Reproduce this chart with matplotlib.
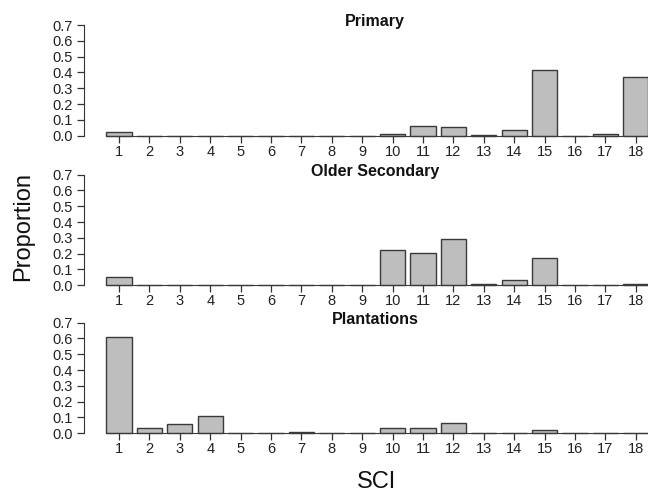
import numpy as np
import matplotlib.pyplot as plt
from matplotlib import font_manager

# SCI classes and proportions per habitat
sci = list(range(1, 19))
primary = [0.022, 0, 0, 0, 0, 0, 0, 0, 0, 0.012, 0.062, 0.052, 0.004, 0.037, 0.415, 0, 0.009, 0.373]
older_secondary = [0.055, 0, 0, 0, 0, 0, 0, 0, 0, 0.225, 0.203, 0.29, 0.008, 0.032, 0.175, 0, 0.004, 0.008]
plantations = [0.61, 0.035, 0.06, 0.107, 0, 0.004, 0.008, 0, 0, 0.035, 0.035, 0.068, 0, 0.004, 0.02, 0, 0, 0]
titles = ["Primary", "Older Secondary", "Plantations"]
yticks = [0.0, 0.1, 0.2, 0.3, 0.4, 0.5, 0.6, 0.7]

names = {f.name for f in font_manager.fontManager.ttflist}
narrow = "Liberation Sans Narrow" if "Liberation Sans Narrow" in names else "Liberation Sans"
plt.rcParams['font.family'] = [narrow, 'DejaVu Sans']

W, H = 648, 496
fig = plt.figure(figsize=(W / 100, H / 100), dpi=100)

zero_px = [135.7, 285.3, 433.3]
scale = 158.1  # px per unit
left_px, right_px = 83.5, 667
x_c1, dx = 119, 30.4
ylo, yhi = -0.012, 0.72
bw = 1 / 1.2

for k, (vals, title) in enumerate(zip([primary, older_secondary, plantations], titles)):
    z = zero_px[k]
    bot = z - ylo * scale
    top = z - yhi * scale
    ax = fig.add_axes([left_px / W, 1 - bot / H, (right_px - left_px) / W, (bot - top) / H])
    ax.bar(sci, vals, width=bw, color="#bebebe", edgecolor="#3a3a3a", linewidth=1.0)
    ax.set_xlim(1 - (x_c1 - left_px) / dx, 1 + (right_px - x_c1) / dx)
    ax.set_ylim(ylo, yhi)
    for s in ["top", "right"]:
        ax.spines[s].set_visible(False)
    ax.spines["left"].set_bounds(0, 0.7)
    ax.spines["left"].set_color("#333333")
    ax.spines["bottom"].set_position(("data", 0))
    ax.spines["bottom"].set_bounds(sci[0] - bw / 2, sci[-1] + bw / 2)
    ax.spines["bottom"].set_color("#3a3a3a")
    ax.set_yticks(yticks)
    ax.set_yticklabels([f"{t:.1f}" for t in yticks])
    ax.set_xticks(sci)
    ax.set_xticklabels([str(s) for s in sci])
    ax.tick_params(axis="both", colors="#333333", labelcolor="#222222", labelsize=10.5,
                   length=5, width=0.9, pad=2.5)
    ax.tick_params(axis="x", pad=1.5)
    ax.text(0.5, 0.72, title, transform=ax.get_yaxis_transform(), ha="center", va="center",
            fontsize=11.5, fontweight="bold", color="#111111")
    ax.patch.set_visible(False)

fig.text(23.5 / W, 1 - 226.5 / H, "Proportion", rotation=90, ha="center", va="center",
         fontsize=17, color="#111111", family=["Liberation Sans", "DejaVu Sans"])
fig.text(377 / W, 1 - 482 / H, "SCI", ha="center", va="center", fontsize=17, color="#111111")

fig.savefig("out.png", dpi=100)
